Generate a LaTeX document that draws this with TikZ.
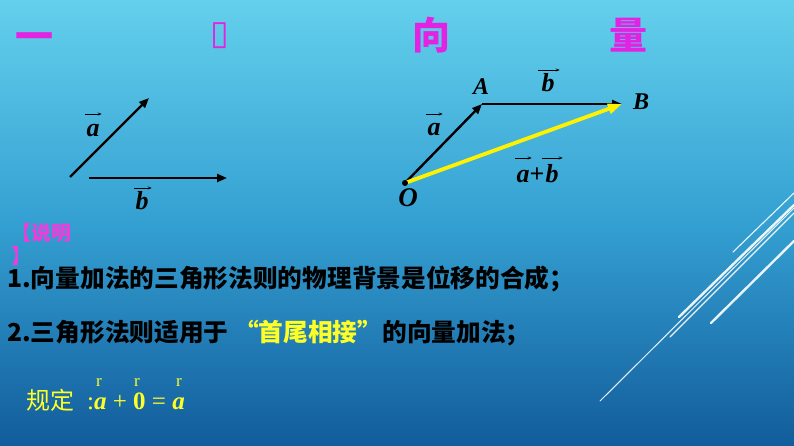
\documentclass[tikz,border=0pt]{standalone}
\usepackage{fontspec}
\usetikzlibrary{arrows.meta}
\setmainfont{Liberation Serif}
\newfontfamily\cjk{Noto Sans CJK SC}
\newfontfamily\dejavu{DejaVu Sans}
\definecolor{bgtop}{RGB}{100,208,236}
\definecolor{bgmid}{RGB}{52,160,210}
\definecolor{bgbot}{RGB}{18,92,155}
\definecolor{titlemag}{RGB}{226,36,226}
\definecolor{notemag}{RGB}{240,60,220}
\definecolor{hlyellow}{RGB}{255,255,40}
\tikzset{
  titlechar/.style={text=titlemag,font=\cjk\bfseries\fontsize{38}{40}\selectfont,inner sep=0pt},
  ptlabel/.style={font=\bfseries\itshape\fontsize{24}{26}\selectfont,inner sep=0pt,anchor=base},
  veclabel/.style={font=\bfseries\itshape\fontsize{26}{28}\selectfont,inner sep=0pt,anchor=base},
  overarrow/.style={line width=0.9pt,-{Stealth[length=4pt,width=3pt]}},
  vecarrow/.style={line width=2.4pt,-{Triangle[length=10pt,width=8pt]}},
  sumarrow/.style={yellow,line width=3.8pt,-{Triangle[length=14pt,width=10pt]}},
  bodytext/.style={font=\cjk\bfseries\fontsize{24.7}{28}\selectfont,inner sep=0pt,anchor=west},
  deco/.style={white,opacity=0.9,line cap=round},
  rmark/.style={font=\fontsize{17}{18}\selectfont,text=hlyellow,inner sep=0pt,anchor=base},
}
\begin{document}
\begin{tikzpicture}[x=1pt,y=-1pt]
\useasboundingbox (0,0) rectangle (794,446);
\shade[top color=bgtop,bottom color=bgbot,middle color=bgmid] (0,0) rectangle (794,446);
% decorative lines
\draw[deco,line width=1.1pt] (733,252) -- (794,193);
\draw[deco,line width=2.4pt] (679,317) -- (794,205);
\draw[deco,line width=1.1pt] (670,337) -- (794,213);
\draw[deco,line width=2.4pt] (711,323) -- (794,241);
\draw[deco,line width=1pt] (600,401) -- (794,208);
% title
\node[titlechar] (t1) at (34,42) {一};
\node[titlechar,font=\dejavu\fontsize{34}{36}\selectfont] (t2) at (220,36) {▯};
\node[titlechar] (t3) at (431,35) {向};
\node[titlechar] (t4) at (628,35) {量};
% left diagram
\coordinate (a0) at (70,177);
\coordinate (a1) at (149,98);
\coordinate (b0) at (89,178);
\coordinate (b1) at (227,178);
\draw[vecarrow] (a0) -- (a1);
\draw[vecarrow] (b0) -- (b1);
\node[veclabel] (la) at (93,137) {a};
\node[veclabel] (lb) at (142,210) {b};
\draw[overarrow] ([xshift=-1pt,yshift=23pt]la.base west) -- ([xshift=2pt,yshift=23pt]la.base east);
\draw[overarrow] ([xshift=-1pt,yshift=22pt]lb.base west) -- ([xshift=3pt,yshift=22pt]lb.base east);
% right diagram
\coordinate (O) at (405,183);
\coordinate (A) at (482,104);
\coordinate (B) at (622,104);
\draw[vecarrow] (O) -- (A);
\draw[vecarrow] (A) -- (B);
\draw[sumarrow] (O) -- (B);
\fill (O) circle (3);
\node[ptlabel,font=\bfseries\itshape\fontsize{27}{28}\selectfont] (lO) at (408,207) {O};
\node[ptlabel] (lA) at (481,95) {A};
\node[ptlabel] (lB) at (641,110) {B};
\node[veclabel] (lOA) at (434,136) {a};
\node[veclabel] (lAB) at (548,92) {b};
\draw[overarrow] ([xshift=-1pt,yshift=22pt]lOA.base west) -- ([xshift=2pt,yshift=22pt]lOA.base east);
\draw[overarrow] ([xshift=-3pt,yshift=22pt]lAB.base west) -- ([xshift=5pt,yshift=22pt]lAB.base east);
\node[veclabel] (sa) at (523,183) {a};
\node[veclabel,font=\bfseries\fontsize{26}{28}\selectfont] (sp) at (537,183) {+};
\node[veclabel] (sb) at (552,183) {b};
\draw[overarrow] ([xshift=-1pt,yshift=25pt]sa.base west) -- ([xshift=2pt,yshift=25pt]sa.base east);
\draw[overarrow] ([xshift=-3pt,yshift=25pt]sb.base west) -- ([xshift=4pt,yshift=25pt]sb.base east);
% notes
\node[font=\cjk\bfseries\fontsize{20}{22}\selectfont,text=notemag,inner sep=0pt,anchor=west] (n0) at (11,233) {【说明};
\node[font=\cjk\bfseries\fontsize{20}{22}\selectfont,text=notemag,inner sep=0pt,anchor=west] (n0b) at (11,256) {】};
\node[bodytext] (n1) at (7,279) {1.向量加法的三角形法则的物理背景是位移的合成；};
\node[bodytext] (n2) at (7,333) {2.三角形法则适用于 \textcolor{hlyellow}{“首尾相接”}的向量加法；};
% rule
\node[font=\cjk\fontsize{24}{26}\selectfont,text=hlyellow,inner sep=0pt,anchor=west] (n3) at (26,400) {规定};
\node[font=\fontsize{25}{26}\selectfont,text=hlyellow,inner sep=0pt,anchor=base west] (n4) at (87,409) {:\textbf{\textit{a}} + \textbf{0} = \textbf{\textit{a}}};
\node[rmark] (r1) at (99,386) {r};
\node[rmark] (r2) at (137,386) {r};
\node[rmark] (r3) at (179,386) {r};
\end{tikzpicture}
\end{document}
